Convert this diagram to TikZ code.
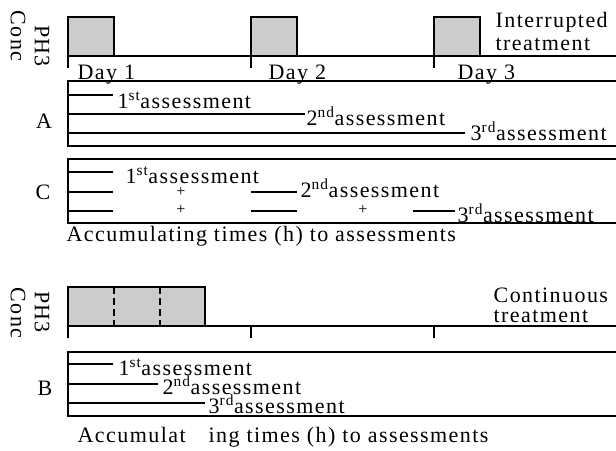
\documentclass[tikz,border=0pt]{standalone}
\usepackage{fontspec}
\setmainfont{Liberation Serif}[LetterSpace=6.5]
\tikzset{
  lbl/.style={anchor=base west, inner sep=0pt, font=\fontsize{22}{24}\selectfont},
  side/.style={inner sep=0pt, font=\fontsize{22}{24}\selectfont},
  plus/.style={inner sep=0pt, font=\fontsize{16}{18}\selectfont},
  pulse/.style={draw, fill=black!20},
  dashmark/.style={dash pattern=on 7pt off 4pt},
}
\begin{document}
\begin{tikzpicture}[x=1pt,y=-1pt,line width=1.4pt]
\useasboundingbox (0,0) rectangle (616,450);
% ---------- top panel (interrupted)
\draw[pulse] (68,56) rectangle (114,17);
\draw[pulse] (251,56) rectangle (297,17);
\draw[pulse] (434,56) rectangle (480,17);
\draw (68,56) -- (616,56);
\draw (68,56) -- (68,68);
\draw (251,56) -- (251,68);
\draw (434,56) -- (434,68);
\node[side,rotate=-90] (ph1) at (42,46) {PH3};
\node[side,rotate=-90] (conc1) at (18,36) {Conc};
\node[lbl] (it1) at (495,27) {Interrupted};
\node[lbl] (it2) at (495,50) {treatment};
\node[lbl] (d1) at (77,79) {Day 1};
\node[lbl] (d2) at (268,79) {Day 2};
\node[lbl] (d3) at (457,79) {Day 3};
% ---------- A
\draw (616,81) -- (68,81) -- (68,146) -- (616,146);
\node[side] (A) at (44,121) {A};
\draw (68,95) -- (113,95);
\draw (68,114) -- (305,114);
\draw (68,133) -- (465,133);
\node[lbl] (a1) at (117,108) {1\textsuperscript{st}assessment};
\node[lbl] (a2) at (306,125) {2\textsuperscript{nd}assessment};
\node[lbl] (a3) at (470,140) {3\textsuperscript{rd}assessment};
% ---------- C
\draw (616,159) -- (68,159) -- (68,223) -- (616,223);
\node[side] (C) at (43,192) {C};
\draw (68,172) -- (113,172);
\draw (68,192) -- (113,192);
\draw (68,211) -- (113,211);
\draw (251,192) -- (297,192);
\draw (251,211) -- (297,211);
\draw (413,211) -- (455,211);
\node[plus] (p1) at (181,192) {+};
\node[plus] (p2) at (181,210) {+};
\node[plus] (p3) at (363,210) {+};
\node[lbl] (c1) at (125,183) {1\textsuperscript{st}assessment};
\node[lbl] (c2) at (300,197) {2\textsuperscript{nd}assessment};
\node[lbl] (c3) at (457,222) {3\textsuperscript{rd}assessment};
\node[lbl] (acc1) at (66,241) {Accumulating times (h) to assessments};
% ---------- bottom panel (continuous)
\draw[pulse] (68,326) rectangle (205,287);
\draw[dashmark] (114,287) -- (114,326);
\draw[dashmark] (160,287) -- (160,326);
\draw (68,326) -- (616,326);
\draw (68,326) -- (68,338);
\draw (251,326) -- (251,338);
\draw (434,326) -- (434,338);
\node[side,rotate=-90] (ph2) at (42,312) {PH3};
\node[side,rotate=-90] (conc2) at (18,313) {Conc};
\node[lbl] (ct1) at (493,302) {Continuous};
\node[lbl] (ct2) at (493,322) {treatment};
% ---------- B
\draw (616,352) -- (68,352) -- (68,416) -- (616,416);
\node[side] (B) at (45,388) {B};
\draw (68,364) -- (113,364);
\draw (68,384) -- (158,384);
\draw (68,403) -- (205,403);
\node[lbl] (b1) at (118,375) {1\textsuperscript{st}assessment};
\node[lbl] (b2) at (162,394) {2\textsuperscript{nd}assessment};
\node[lbl] (b3) at (208,413) {3\textsuperscript{rd}assessment};
\node[lbl] (acc2a) at (77,442) {Accumulat};
\node[lbl] (acc2b) at (208,442) {ing times (h) to assessments};
\end{tikzpicture}
\end{document}
